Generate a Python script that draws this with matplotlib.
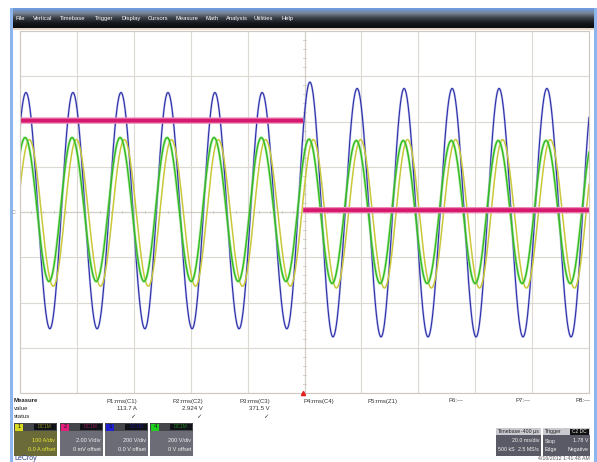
import numpy as np
import matplotlib.pyplot as plt
from matplotlib.patches import Rectangle
from matplotlib.colors import LinearSegmentedColormap

plt.rcParams["font.family"] = ["Liberation Sans", "DejaVu Sans"]

# scope settings
ms_per_div = 20.0
units_per_div = {"C1": 100.0, "C2": 2.0, "C3": 200.0, "C4": 200.0}

# C3 extremum times (ms), trough / peak alternating
ext_t = [-106.3, -97.9, -89.5, -81.4, -72.9, -64.5, -56.1, -48.0, -39.5,
         -31.5, -23.0, -14.9, -6.2, 1.9, 10.0, 18.5, 26.9, 35.0, 43.4,
         51.9, 60.3, 68.4, 76.8, 85.2, 93.7, 101.8]

# C3 (V) extremum values
c3_v = [-516, 528, -516, 528, -516, 528, -516, 528, -516, 528, -516, 528,
        -516, 574, -552, 546, -552, 546, -552, 546, -552, 546, -552, 546,
        -552, 546]
# C4 (V)
c4_v = [-307, 329, -307, 329, -307, 329, -307, 329, -307, 329, -307, 329,
        -307, 322, -316, 316, -316, 316, -316, 316, -316, 316, -316, 316,
        -316, 316]
# C1 (A)
c1_v = [-164, 160, -164, 160, -164, 160, -164, 160, -164, 160, -164, 160,
        -164, 160, -168, 160, -168, 160, -168, 160, -168, 160, -168, 160,
        -168, 160]
c4_lag_ms = -0.3
c1_lag_ms = 1.2

# C2 step (V)
c2_step_ms = -0.5
c2_before = 4.04
c2_after = 0.08

measure_names = ["P1:rms(C1)", "P2:rms(C2)", "P3:rms(C3)", "P4:rms(C4)",
                 "P5:rms(Z1)", "P6:---", "P7:---", "P8:---"]
measure_values = ["113.7 A", "2.924 V", "371.5 V", "", "", "", "", ""]
measure_ok = [True, True, True, False, False, False, False, False]

channels = ["C1", "C2", "C3", "C4"]
ch_scale = ["100 A/div", "2.00 V/div", "200 V/div", "200 V/div"]
ch_offset = ["0.0 A offset", "0 mV offset", "0.0 V offset", "0 V offset"]
ch_colors = ["#d8d820", "#e0207a", "#2020d0", "#20d020"]

menu_items = ["File", "Vertical", "Timebase", "Trigger", "Display", "Cursors",
              "Measure", "Math", "Analysis", "Utilities", "Help"]
menu_x = [15, 33, 60, 95, 122, 148, 176, 205, 226, 254, 281]


def join_extrema(t_ext, v_ext, t):
    t_ext = np.asarray(t_ext, float)
    v_ext = np.asarray(v_ext, float)
    i = np.clip(np.searchsorted(t_ext, t) - 1, 0, len(t_ext) - 2)
    t0, t1 = t_ext[i], t_ext[i + 1]
    v0, v1 = v_ext[i], v_ext[i + 1]
    f = (t - t0) / (t1 - t0)
    return (v0 + v1) / 2 + (v0 - v1) / 2 * np.cos(np.pi * f)


W, H = 597, 462
fig = plt.figure(figsize=(W / 100, H / 100), dpi=100)

# ---- window chrome / bottom panel, in pixel coords
ui = fig.add_axes([0, 0, 1, 1], zorder=0)
ui.set_xlim(0, W)
ui.set_ylim(H, 0)
ui.axis("off")

cmap = LinearSegmentedColormap.from_list(
    "bar", ["#6f9ee6", "#7a8494", "#3a3f47", "#15181c", "#0b0d10"])
grad = np.linspace(0, 1, 50).reshape(-1, 1)
ui.imshow(grad, cmap=cmap, extent=(10, W, 28, 8), aspect="auto")
ui.add_patch(Rectangle((10, 28), W - 10, 2, color="#e6d6c8", lw=0))
ui.add_patch(Rectangle((10, 8), 2.5, H - 8, color="#8db6ef", lw=0))
ui.add_patch(Rectangle((594, 8), 3, H - 8, color="#8db6ef", lw=0))

for xm, item in zip(menu_x, menu_items):
    ui.text(xm, 18.5, item, color="white", fontsize=4.2, va="center")

# measure table
for y, lab in zip([401, 409, 417], ["Measure", "value", "status"]):
    ui.text(14, y, lab, fontsize=4.3, va="center",
            fontweight="bold" if lab == "Measure" else "normal", color="#222")
col_right = [137, 203, 270, 334, 397, 463, 530, 591]
for xr, name, val, ok in zip(col_right, measure_names, measure_values, measure_ok):
    ui.text(xr, 401, name, fontsize=4.3, ha="right", va="center", color="#333")
    ui.text(xr, 409, val, fontsize=4.3, ha="right", va="center", color="#333")
    if ok:
        ui.text(xr - 2, 417, "\u2713", fontsize=4.5, ha="right", va="center",
                color="#333")

# channel boxes
for k, x0 in enumerate([14, 60, 105, 150]):
    body = "#6b6b3a" if k == 0 else "#6c6c76"
    ui.add_patch(Rectangle((x0, 423), 43, 33, color=body, lw=0))
    ui.add_patch(Rectangle((x0, 423), 43, 8, color="#45454c", lw=0))
    ui.add_patch(Rectangle((x0 + 1, 423.5), 8, 7, color=ch_colors[k], lw=0))
    ui.text(x0 + 5, 427, channels[k][1], fontsize=4, ha="center",
            va="center", color="#111")
    ui.add_patch(Rectangle((x0 + 20, 424), 22, 6, color="#111118", lw=0))
    ui.text(x0 + 31, 427, "DC1M", fontsize=3.5, ha="center", va="center",
            color=ch_colors[k], alpha=0.6)
    tc = "#e8e830" if k == 0 else "#f0f0f0"
    ui.text(x0 + 41, 441, ch_scale[k], fontsize=4, ha="right", va="center",
            color=tc)
    ui.text(x0 + 41, 449.5, ch_offset[k], fontsize=4, ha="right",
            va="center", color=tc)

# timebase / trigger boxes
ui.add_patch(Rectangle((496, 428), 45, 28, color="#5a5a66", lw=0))
ui.add_patch(Rectangle((496, 428), 45, 7, color="#c9c9cf", lw=0))
ui.text(498, 431.5, "Timebase", fontsize=3.8, va="center", color="#222")
ui.text(539, 431.5, "-400 \u00b5s", fontsize=3.8, ha="right", va="center",
        color="#222")
ui.text(539, 441, "20.0 ms/div", fontsize=3.8, ha="right", va="center",
        color="#f0f0f0")
ui.text(498, 449.5, "500 kS", fontsize=3.8, va="center", color="#f0f0f0")
ui.text(539, 449.5, "2.5 MS/s", fontsize=3.8, ha="right", va="center",
        color="#f0f0f0")
ui.add_patch(Rectangle((543, 428), 47, 28, color="#5a5a66", lw=0))
ui.add_patch(Rectangle((543, 428), 47, 7, color="#c9c9cf", lw=0))
ui.add_patch(Rectangle((570, 428.5), 19, 6, color="#111", lw=0))
ui.text(545, 431.5, "Trigger", fontsize=3.8, va="center", color="#222")
ui.text(579.5, 431.5, "C2 DC", fontsize=3.5, ha="center", va="center",
        color="#eee")
ui.text(545, 441, "Stop", fontsize=3.8, va="center", color="#f0f0f0")
ui.text(588, 441, "1.78 V", fontsize=3.8, ha="right", va="center",
        color="#f0f0f0")
ui.text(545, 449.5, "Edge", fontsize=3.8, va="center", color="#f0f0f0")
ui.text(588, 449.5, "Negative", fontsize=3.8, ha="right", va="center",
        color="#f0f0f0")
ui.text(590, 458.5, "4/16/2012 1:41:48 AM", fontsize=3.8, ha="right",
        va="center", color="#555")
ui.text(14, 458.5, "LeCroy", fontsize=5, va="center", color="#2a3c88")

# ---- scope grid
ax = fig.add_axes([20 / W, (H - 393) / H, 569 / W, 362 / H], zorder=1)
ax.set_xlim(-5 * ms_per_div, 5 * ms_per_div)
ax.set_ylim(-4, 4)
ax.set_xticks(np.arange(-5, 6) * ms_per_div)
ax.set_yticks(np.arange(-4, 5))
ax.tick_params(length=0, labelbottom=False, labelleft=False)
ax.grid(True, color="#dcd8d2", lw=0.8)
for s in ax.spines.values():
    s.set_color("#cfc8c0")
    s.set_linewidth(0.8)
ax.axhline(0, color="#d2cdc6", lw=0.8)
ax.axvline(0, color="#d2cdc6", lw=0.8)
for m in np.arange(-4, 4.01, 0.2):
    ax.plot([-0.6, 0.6], [m, m], color="#cfc8c0", lw=0.6)
for m in np.arange(-100, 100.1, 4):
    ax.plot([m, m], [-0.03, 0.03], color="#cfc8c0", lw=0.6)

t = np.linspace(-100, 100, 5000)
c3 = join_extrema(ext_t, c3_v, t) / units_per_div["C3"]
c1 = join_extrema(np.array(ext_t) + c1_lag_ms, c1_v, t) / units_per_div["C1"]
c4 = join_extrema(np.array(ext_t) + c4_lag_ms, c4_v, t) / units_per_div["C4"]

ax.plot(t, c3, color="#8a8ee0", lw=1.6, alpha=0.5)
ax.plot(t, c3, color="#2b2fa6", lw=0.8)
ax.plot(t, c1, color="#c9c83a", lw=1.1)
ax.plot(t, c4, color="#8fe07a", lw=2.0, alpha=0.6)
ax.plot(t, c4, color="#33bb22", lw=1.0)

pre = t < c2_step_ms
for mask, lvl in [(pre, c2_before), (~pre, c2_after)]:
    yv = np.full(mask.sum(), lvl / units_per_div["C2"])
    ax.plot(t[mask], yv, color="#ec8ab6", lw=4.6, solid_capstyle="butt")
    ax.plot(t[mask], yv, color="#d6186f", lw=2.8, solid_capstyle="butt")

ax.plot([c2_step_ms], [-4], marker="^", color="#e02020", ms=3,
        clip_on=False, zorder=5)
ax.text(-101.5, 0, "\u25a1", fontsize=4, color="#999", ha="right",
        va="center")

fig.savefig("out.png", dpi=100)
